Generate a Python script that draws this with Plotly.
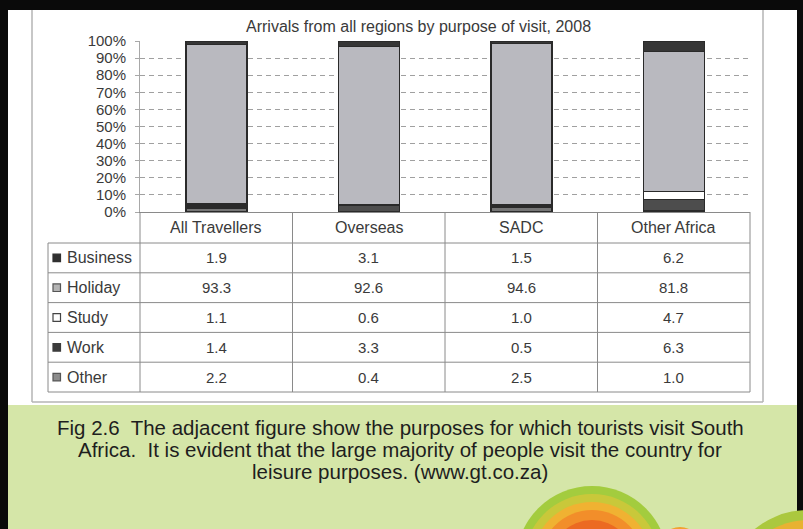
import plotly.graph_objects as go

# ---------------- data ----------------
regions = ["All Travellers", "Overseas", "SADC", "Other Africa"]
purposes = ["Business", "Holiday", "Study", "Work", "Other"]
business = [1.9, 3.1, 1.5, 6.2]
holiday = [93.3, 92.6, 94.6, 81.8]
study = [1.1, 0.6, 1.0, 4.7]
work = [1.4, 3.3, 0.5, 6.3]
other = [2.2, 0.4, 2.5, 1.0]
y_tick_values = [0, 10, 20, 30, 40, 50, 60, 70, 80, 90, 100]
y_tick_labels = ["0%", "10%", "20%", "30%", "40%", "50%", "60%", "70%", "80%", "90%", "100%"]
grid_values = [10, 20, 30, 40, 50, 60, 70, 80, 90]
chart_title = "Arrivals from all regions by purpose of visit, 2008"
caption_lines = [
    "Fig 2.6  The adjacent figure show the purposes for which tourists visit South",
    "Africa.  It is evident that the large majority of people visit the country for",
    "leisure purposes. (www.gt.co.za)",
]

series = {"Business": business, "Holiday": holiday, "Study": study, "Work": work, "Other": other}
stack_order = ["Other", "Work", "Study", "Holiday", "Business"]  # bottom -> top
fill_colors = {"Business": "#363636", "Holiday": "#b9b9bf", "Study": "#ffffff",
               "Work": "#4d4d4d", "Other": "#767676"}
key_colors = {"Business": ("#303030", "#303030"), "Holiday": ("#b4b4b4", "#555555"),
              "Study": ("#ffffff", "#444444"), "Work": ("#3c3c3c", "#3c3c3c"),
              "Other": ("#8c8c8c", "#555555")}

W, H = 803, 529
def X(p): return p / W
def Y(p): return 1 - p / H

FONT = "Liberation Sans, Arial, sans-serif"

# plot area in pixels
PX0, PX1 = 140, 750
PY_TOP, PY_BOT = 41, 212

fig = go.Figure()
for name in stack_order:
    fig.add_trace(go.Bar(
        x=regions, y=series[name], name=name, width=0.4,
        marker=dict(color=fill_colors[name], line=dict(color="#2a2a2a", width=1.5)),
        showlegend=False, hovertemplate=name + ": %{y}<extra></extra>"))
# carrier for the dashed grid axis
fig.add_trace(go.Scatter(x=[], y=[], yaxis="y2", showlegend=False, hoverinfo="skip"))

shapes = []
def rect(x0, y0, x1, y1, fill, line=None, lw=0, layer="below"):
    shapes.append(dict(type="rect", xref="paper", yref="paper",
                       x0=X(x0), x1=X(x1), y0=Y(y1), y1=Y(y0),
                       fillcolor=fill, line=dict(color=line or fill, width=lw), layer=layer))
def hline(y, x0, x1, color="#8a8a8a", w=1):
    shapes.append(dict(type="line", xref="paper", yref="paper",
                       x0=X(x0), x1=X(x1), y0=Y(y), y1=Y(y), line=dict(color=color, width=w)))
def vline(x, y0, y1, color="#8a8a8a", w=1):
    shapes.append(dict(type="line", xref="paper", yref="paper",
                       x0=X(x), x1=X(x), y0=Y(y0), y1=Y(y1), line=dict(color=color, width=w)))
def circle(cx, cy, r, fill):
    shapes.append(dict(type="circle", xref="paper", yref="paper",
                       x0=X(cx - r), x1=X(cx + r), y0=Y(cy + r), y1=Y(cy - r),
                       fillcolor=fill, line=dict(width=0), layer="below"))

# panels
rect(8, 10, 797, 405, "#ffffff")
rect(8, 405, 797, 529, "#d5e6a8")
# decorative circles
for r, c in [(76, "#a3cc3e"), (68, "#c9c83a"), (60, "#f0b232"), (52, "#f28e2a"), (42, "#ec6a22")]:
    circle(592, 562, r, c)
for r, c in [(22, "#f2a030"), (15, "#ec6a22")]:
    circle(680, 549, r, c)
for r, c in [(84, "#abc83e"), (74, "#e8b232"), (64, "#f08c2a"), (52, "#ec6622")]:
    circle(808, 594, r, c)

# chart box
vline(32, 10, 402, "#b4b4b4", 1.5)
vline(763, 10, 402, "#b4b4b4", 1.5)
hline(402, 32, 763, "#b4b4b4", 1.5)

# data table
n_cols = len(regions)
col_edges = [PX0 + i * (PX1 - PX0) / n_cols for i in range(n_cols + 1)]
row_top = 243
row_h = 29.8
table_bottom = row_top + row_h * len(purposes)
for xe in col_edges:
    vline(xe, PY_BOT, table_bottom)
vline(48, row_top, table_bottom)
for k in range(len(purposes) + 1):
    hline(row_top + k * row_h, 48, PX1)

annotations = []
for k, name in enumerate(purposes):
    yc = row_top + k * row_h + row_h / 2
    f, l = key_colors[name]
    shapes.append(dict(type="rect", xref="paper", yref="paper",
                       x0=X(53), x1=X(60.5), y0=Y(yc + 3.8), y1=Y(yc - 3.8),
                       fillcolor=f, line=dict(color=l, width=1.2)))
    annotations.append(dict(text=name, x=X(65), y=Y(yc), xref="paper", yref="paper",
                            xanchor="left", yanchor="middle", showarrow=False,
                            font=dict(family=FONT, size=16, color="#3a3a3a")))
    for region, v in zip(regions, series[name]):
        annotations.append(dict(text=f"{v:.1f}", x=region, y=Y(yc), xref="x", yref="paper",
                                xanchor="center", yanchor="middle", showarrow=False,
                                font=dict(family=FONT, size=15, color="#3a3a3a")))
for region in regions:
    annotations.append(dict(text=region, x=region, y=Y((PY_BOT + row_top) / 2), xref="x", yref="paper",
                            xanchor="center", yanchor="middle", showarrow=False,
                            font=dict(family=FONT, size=16, color="#3a3a3a")))

annotations.append(dict(text=chart_title, x=X(418), y=Y(26), xref="paper", yref="paper",
                        xanchor="center", yanchor="middle", showarrow=False,
                        font=dict(family=FONT, size=16, color="#3a3a3a")))
for i, line in enumerate(caption_lines):
    annotations.append(dict(text=line, x=X(400), y=Y(427 + i * 22), xref="paper", yref="paper",
                            xanchor="center", yanchor="middle", showarrow=False,
                            font=dict(family=FONT, size=20.5, color="#1e1e1e")))

fig.update_layout(
    width=W, height=H, margin=dict(l=0, r=0, t=0, b=0, autoexpand=False),
    paper_bgcolor="#0a0a0a", plot_bgcolor="rgba(0,0,0,0)",
    barmode="stack", showlegend=False,
    shapes=shapes, annotations=annotations,
    xaxis=dict(domain=[X(PX0), X(PX1)], type="category", range=[-0.5, 3.5], automargin=False,
               showticklabels=False, ticks="", showgrid=False, zeroline=False,
               showline=True, linecolor="#8a8a8a", linewidth=1, fixedrange=True),
    yaxis=dict(domain=[Y(PY_BOT), Y(PY_TOP)], range=[0, 100], automargin=False,
               tickvals=y_tick_values, ticktext=y_tick_labels,
               showgrid=False, zeroline=False, showline=True, linecolor="#a8a8a8", linewidth=1,
               ticks="outside", ticklen=4, tickcolor="#a8a8a8", ticklabelstandoff=6,
               tickfont=dict(family=FONT, size=15, color="#3a3a3a"), fixedrange=True),
    yaxis2=dict(domain=[Y(PY_BOT), Y(PY_TOP)], range=[0, 100], overlaying="y", anchor="x",
                automargin=False,
                tickvals=grid_values, showticklabels=False, ticks="",
                showgrid=True, gridcolor="#a0a0a0", gridwidth=1, griddash="5px,4px",
                zeroline=False, showline=False, fixedrange=True),
)

post_js = ("document.documentElement.style.margin='0';"
           "document.documentElement.style.overflow='hidden';"
           "document.body.style.margin='0';document.body.style.padding='0';"
           "document.body.style.overflow='hidden';"
           "var d=document.getElementById('{plot_id}');"
           "d.style.position='absolute';d.style.left='0px';d.style.top='0px';d.style.overflow='hidden';")

fig.write_html("out.html", post_script=post_js, config={"displayModeBar": False})
